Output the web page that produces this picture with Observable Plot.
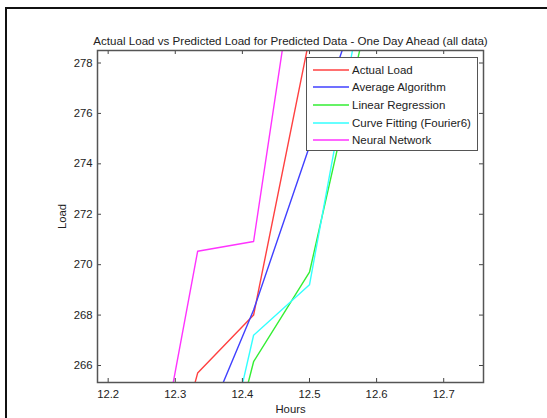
<!DOCTYPE html>
<html>
<head>
<meta charset="utf-8">
<script src="https://cdn.jsdelivr.net/npm/d3@7"></script>
<script src="https://cdn.jsdelivr.net/npm/@observablehq/plot@0.6"></script>
<style>
  html, body { margin: 0; padding: 0; background: #fff; }
  #wrap { position: relative; width: 547px; height: 418px; overflow: hidden; font-family: "Liberation Sans", Arial, sans-serif; }
  #border { position: absolute; left: 5px; top: 7px; right: -10px; bottom: -10px; border-top: 2.5px solid #111; border-left: 2.5px solid #111; pointer-events: none; }
  #chart { position: absolute; left: 0; top: 0; }
  #legend { position: absolute; left: 306px; top: 57px; width: 172px; height: 94px; background: #fff; border: 1.5px solid #555; box-sizing: border-box; font-size: 11.5px; color: #222; }
  .row { position: absolute; left: 0; height: 14px; display: flex; align-items: center; }
  .row svg { margin-left: 6px; margin-right: 3px; }
</style>
</head>
<body>
<div id="wrap">
  <div id="chart"></div>
  <div id="legend"></div>
  <div id="border"></div>
</div>
<script>
const title = "Actual Load vs Predicted Load for Predicted Data - One Day Ahead (all data)";
const hours = [12.25, 12.3333, 12.4167, 12.5, 12.5833];
const seriesNames = ["Actual Load", "Average Algorithm", "Linear Regression", "Curve Fitting (Fourier6)", "Neural Network"];
const seriesColors = ["#ff4040", "#4040ff", "#33ee33", "#33ffff", "#ff33ff"];
const actualLoad = [257.4, 265.7, 268.0, 279.0, 286.0];
const averageAlgorithm = [257.6, 262.9, 268.2, 274.7, 281.2];
const linearRegression = [250.0, 257.5, 266.15, 269.7, 279.5];
const curveFitting = [250.0, 257.5, 267.2, 269.2, 281.3];
const neuralNetwork = [258.6, 270.53, 270.92, 285.7, 290.0];
const xTicks = [12.2, 12.3, 12.4, 12.5, 12.6, 12.7];
const yTicks = [266, 268, 270, 272, 274, 276, 278];

const seriesValues = [actualLoad, averageAlgorithm, linearRegression, curveFitting, neuralNetwork];
const data = seriesNames.flatMap((name, i) => hours.map((h, j) => ({series: name, hour: h, load: seriesValues[i][j]})));

const W = 547, H = 418;
const mL = 97, mR = 64, mT = 50, mB = 36;
const innerH = H - mT - mB, innerW = W - mL - mR;
const tickLen = 4;
const fontFam = "Liberation Sans, Arial, sans-serif";

const plot = Plot.plot({
  width: W,
  height: H,
  marginLeft: mL,
  marginRight: mR,
  marginTop: mT,
  marginBottom: mB,
  style: {fontFamily: fontFam, fontSize: "11.3px", color: "#222", background: "#fff", overflow: "visible"},
  x: {domain: [12.1841, 12.7593]},
  y: {domain: [265.326, 278.496]},
  color: {domain: seriesNames, range: seriesColors},
  marks: [
    Plot.line(data, {x: "hour", y: "load", z: "series", stroke: "series", strokeWidth: 1.4, clip: true}),
    Plot.tickX(xTicks, {x: d => d, insetTop: innerH - tickLen, stroke: "#444", strokeWidth: 1}),
    Plot.tickX(xTicks, {x: d => d, insetBottom: innerH - tickLen, stroke: "#444", strokeWidth: 1}),
    Plot.tickY(yTicks, {y: d => d, insetRight: innerW - tickLen, stroke: "#444", strokeWidth: 1}),
    Plot.tickY(yTicks, {y: d => d, insetLeft: innerW - tickLen, stroke: "#444", strokeWidth: 1}),
    Plot.frame({stroke: "#555", strokeWidth: 1.5}),
    Plot.axisX({ticks: xTicks, tickSize: 0, tickPadding: 7, tickFormat: d => d.toFixed(1), label: "Hours", labelAnchor: "center", labelArrow: "none", labelOffset: 30, fill: "#222"}),
    Plot.axisY({ticks: yTicks, tickSize: 0, tickPadding: 5, tickFormat: d => String(d), label: "Load", labelAnchor: "center", labelArrow: "none", labelOffset: 40, fill: "#222"}),
    Plot.text([title], {text: d => d, frameAnchor: "top", dy: -14, fontSize: 11.6, fill: "#222"})
  ]
});
document.getElementById("chart").appendChild(plot);

const legend = document.getElementById("legend");
const rowTops = [4.5, 22.2, 39.9, 57.6, 75.3];
seriesNames.forEach((name, i) => {
  const row = document.createElement("div");
  row.className = "row";
  row.style.top = rowTops[i] + "px";
  row.innerHTML = `<svg width="36" height="4"><line x1="0" y1="2" x2="36" y2="2" stroke="${seriesColors[i]}" stroke-width="1.4"/></svg><span>${name}</span>`;
  legend.appendChild(row);
});
</script>
</body>
</html>
